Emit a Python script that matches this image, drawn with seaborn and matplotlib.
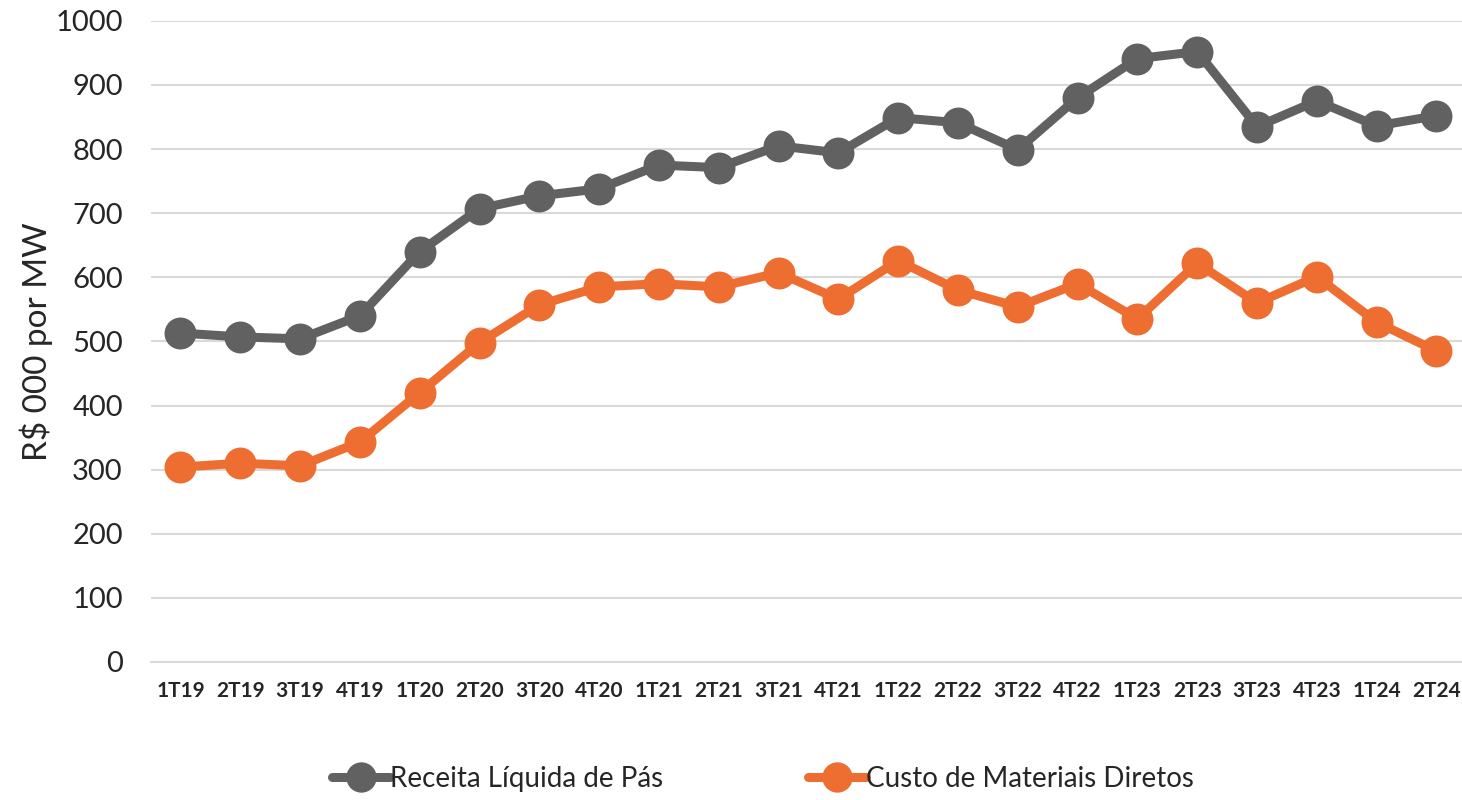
import pandas as pd
import seaborn as sns
import matplotlib.pyplot as plt

# quarters and values (R$ 000 per MW)
quarters = ['1T19', '2T19', '3T19', '4T19', '1T20', '2T20', '3T20', '4T20',
            '1T21', '2T21', '3T21', '4T21', '1T22', '2T22', '3T22', '4T22',
            '1T23', '2T23', '3T23', '4T23', '1T24', '2T24']
receita = [513, 507, 504, 540, 640, 707, 727, 738, 775, 771, 805, 794,
           849, 841, 799, 880, 941, 952, 835, 875, 836, 852]
custo = [304, 310, 306, 343, 420, 498, 557, 585, 590, 585, 607, 566,
         626, 580, 554, 590, 535, 622, 560, 601, 530, 485]

label_receita = 'Receita Líquida de Pás'
label_custo = 'Custo de Materiais Diretos'

df = pd.DataFrame({
    'trimestre': quarters * 2,
    'valor': receita + custo,
    'serie': [label_receita] * len(quarters) + [label_custo] * len(quarters),
})

sns.set_style('white')
plt.rcParams['font.family'] = ['Lato', 'DejaVu Sans']

fig = plt.figure(figsize=(14.62, 8), dpi=100)
ax = fig.add_axes([0.103, 0.1725, 0.900, 0.8015])

palette = {label_receita: '#616161', label_custo: '#EE6D31'}
sns.lineplot(data=df, x='trimestre', y='valor', hue='serie', palette=palette,
             marker='o', markersize=23, linewidth=6.5, markeredgewidth=0,
             sort=False, ax=ax)

ax.set_ylim(0, 1000)
ax.set_xlim(-0.5, len(quarters) - 0.5)
ax.set_yticks(range(0, 1001, 100))
ax.yaxis.grid(True, color='#d9d9d9', linewidth=1.5)
ax.set_axisbelow(True)
for s in ['top', 'right', 'left']:
    ax.spines[s].set_visible(False)
ax.spines['bottom'].set_color('#d9d9d9')
ax.spines['bottom'].set_linewidth(1.5)

ax.tick_params(axis='y', labelsize=21, length=0, pad=20)
ax.tick_params(axis='x', labelsize=15, length=0, pad=14)
for t in ax.get_xticklabels():
    t.set_fontweight('bold')
ax.set_xlabel('')
ax.set_ylabel('R$ 000 por MW', fontsize=24, labelpad=2)

handles, labels = ax.get_legend_handles_labels()
ax.legend(handles, labels, loc='center', bbox_to_anchor=(0.522, 0.026),
          bbox_transform=fig.transFigure, ncol=2, frameon=False,
          fontsize=20, handlelength=2.1, handletextpad=0.0,
          columnspacing=5.2, markerscale=0.95)

fig.savefig('out.png', dpi=100)
